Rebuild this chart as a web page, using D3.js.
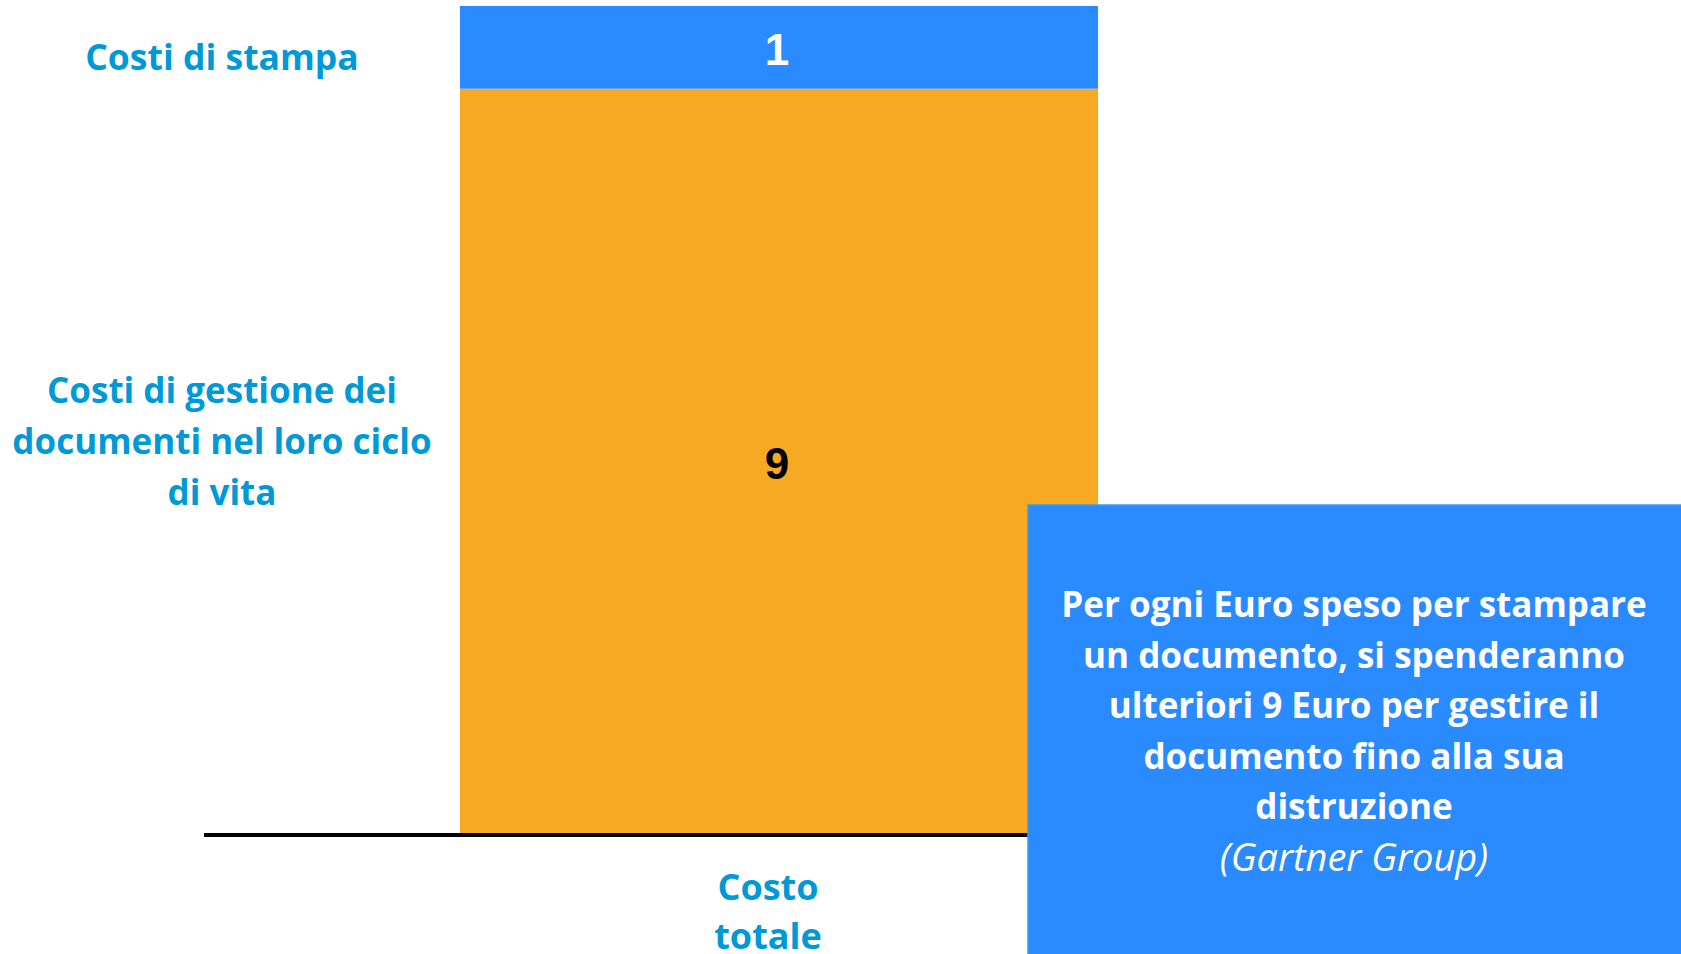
<!DOCTYPE html>
<html>
<head>
<meta charset="utf-8">
<script src="https://cdn.jsdelivr.net/npm/d3@7"></script>
<style>
  html, body { margin: 0; padding: 0; background: #fff; }
  svg { display: block; }
  text { font-family: "Open Sans", Lato, sans-serif; font-weight: bold; }
</style>
</head>
<body>
<div id="chart"></div>
<script>
// data
var categories = ["Costo totale"];
var seriesNames = ["Costi di gestione dei documenti nel loro ciclo di vita", "Costi di stampa"];
var seriesValues = [9, 1];
var seriesColors = ["#f7a923", "#2a8aff"];
var valueColors = ["#000000", "#ffffff"];
var seriesLabelLines = [
    ["Costi di gestione dei", "documenti nel loro ciclo", "di vita"],
    ["Costi di stampa"]
];
var categoryLabelLines = ["Costo", "totale"];
var noteLines = [
    "Per ogni Euro speso per stampare",
    "un documento, si spenderanno",
    "ulteriori 9 Euro per gestire il",
    "documento fino alla sua",
    "distruzione"
];
var noteSource = "(Gartner Group)";

var width = 1681, height = 954;
var svg = d3.select("#chart").append("svg")
    .attr("width", width)
    .attr("height", height);

var x = d3.scaleBand()
    .domain(categories)
    .range([204, 1354])
    .padding(0.2863);

var y = d3.scaleLinear()
    .domain([0, 10])
    .range([833, 6]);

// stack the two segments
var stacked = [];
var base = 0;
seriesValues.forEach(function (v, i) {
    stacked.push({name: seriesNames[i], y0: base, y1: base + v, value: v, i: i});
    base += v;
});

var bars = svg.append("g");
bars.selectAll("rect")
    .data(stacked)
    .enter().append("rect")
    .attr("x", x(categories[0]))
    .attr("width", x.bandwidth())
    .attr("y", function (d) { return y(d.y1); })
    .attr("height", function (d) { return y(d.y0) - y(d.y1); })
    .attr("fill", function (d) { return seriesColors[d.i]; });

// values inside the segments
bars.selectAll("text.value")
    .data(stacked)
    .enter().append("text")
    .attr("class", "value")
    .attr("x", x(categories[0]) + x.bandwidth() / 2 - 2)
    .attr("y", function (d) { return (y(d.y0) + y(d.y1)) / 2 + 2; })
    .attr("dy", "0.36em")
    .attr("text-anchor", "middle")
    .style("font-family", "'Liberation Sans', Arial, sans-serif")
    .style("font-size", "44px")
    .attr("fill", function (d) { return valueColors[d.i]; })
    .text(function (d) { return d.value; });

// baseline
svg.append("line")
    .attr("x1", 204)
    .attr("x2", 1354)
    .attr("y1", y(0) + 2)
    .attr("y2", y(0) + 2)
    .attr("stroke", "#000")
    .attr("stroke-width", 4);

// series labels on the left
var labelColor = "#0099d8";
var labelOffsets = [-19, 10];
var labelSizes = [35, 35.5];
stacked.forEach(function (d) {
    var lines = seriesLabelLines[d.i];
    var cy = (y(d.y0) + y(d.y1)) / 2 + labelOffsets[d.i];
    var lh = 51;
    var t = svg.append("text")
        .attr("text-anchor", "middle")
        .attr("fill", labelColor)
        .style("font-size", labelSizes[d.i] + "px");
    lines.forEach(function (line, k) {
        t.append("tspan")
            .attr("x", 222)
            .attr("y", cy + (k - (lines.length - 1) / 2) * lh)
            .attr("dy", "0.36em")
            .text(line);
    });
});

// category label under the axis
var cat = svg.append("text")
    .attr("text-anchor", "middle")
    .attr("fill", labelColor)
    .style("font-size", "36px");
categoryLabelLines.forEach(function (line, k) {
    cat.append("tspan")
        .attr("x", x(categories[0]) + x.bandwidth() / 2 - 11)
        .attr("y", 900 + k * 49)
        .text(line);
});

// note box
svg.append("rect")
    .attr("x", 1028)
    .attr("y", 505)
    .attr("width", width - 1028 + 2)
    .attr("height", height - 505 + 2)
    .attr("fill", "#2a8aff")
    .attr("stroke", "#3a9ee8")
    .attr("stroke-width", 1.5);

var note = svg.append("text")
    .attr("text-anchor", "middle")
    .attr("fill", "#fff")
    .style("font-size", "35px");
noteLines.forEach(function (line, k) {
    note.append("tspan")
        .attr("x", 1354)
        .attr("y", 617 + k * 50.5)
        .text(line);
});
note.append("tspan")
    .attr("x", 1354)
    .attr("y", 871)
    .style("font-style", "italic")
    .style("font-weight", "normal")
    .style("font-size", "38px")
    .text(noteSource);
</script>
</body>
</html>
